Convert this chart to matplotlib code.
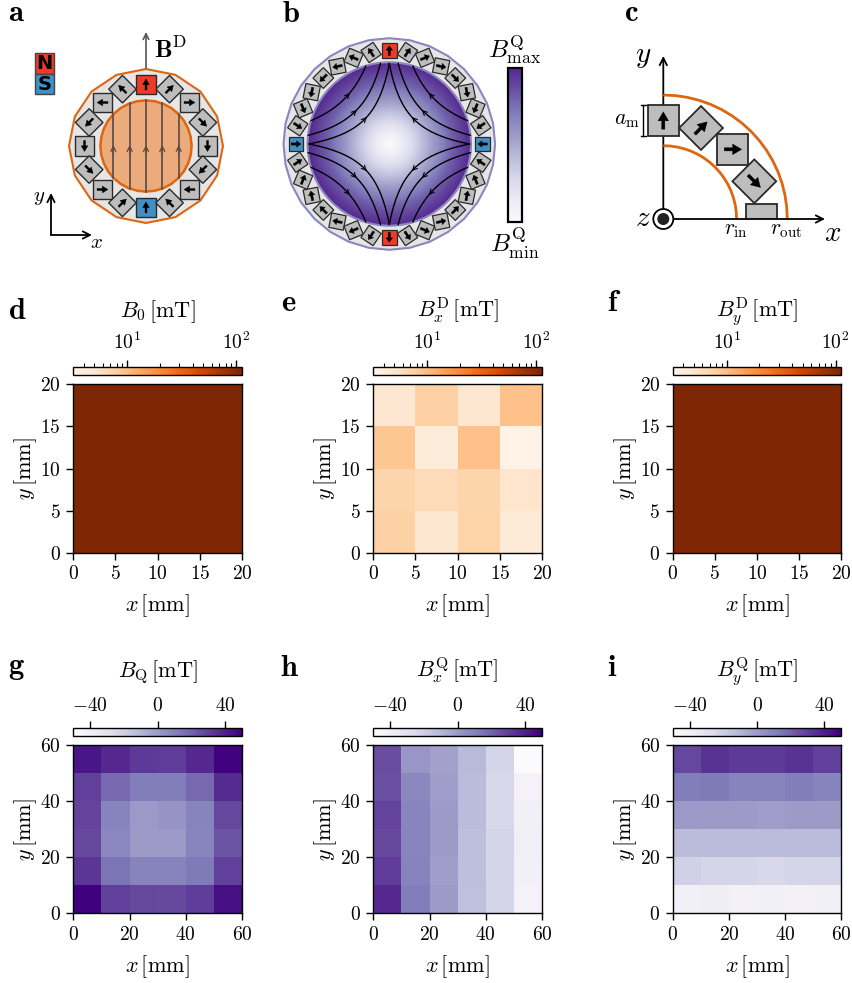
import numpy as np
import matplotlib
matplotlib.use('Agg')
import matplotlib.pyplot as plt
from matplotlib.colors import LogNorm, Normalize
from matplotlib.patches import Polygon, Rectangle, Circle, FancyArrow

plt.rcParams['font.family'] = ['cmr10', 'DejaVu Sans']
plt.rcParams['mathtext.fontset'] = 'cm'
plt.rcParams['axes.unicode_minus'] = False
plt.rcParams['axes.formatter.use_mathtext'] = True
plt.rcParams['axes.linewidth'] = 1.0

W, H = 852, 983

#
# Data
#

# rows run from the top of the map to the bottom
b0_map = [[112, 112, 112, 112],
          [112, 112, 112, 112],
          [112, 112, 112, 112],
          [112, 112, 112, 112]]
bx_d_map = [[4.9, 7.7, 4.8, 9.5],
            [8.8, 4.2, 9.5, 3.5],
            [7.0, 6.3, 7.0, 5.2],
            [7.7, 4.8, 7.4, 4.4]]
by_d_map = [[112, 112, 112, 112],
            [112, 112, 112, 112],
            [112, 112, 112, 112],
            [112, 112, 112, 112]]
bq_map = [[43, 37, 32, 31, 37, 49],
          [30, 18, 12, 12, 18, 36],
          [29, 10, 1, 3, 10, 28],
          [27, 8, 0, 0, 9, 24],
          [33, 15, 10, 10, 13, 30],
          [50, 30, 28, 27, 31, 45]]
bx_q_map = [[26, 2, -2, -11, -23, -49],
            [25, 8, -1, -12, -24, -42],
            [29, 9, 0, -12, -24, -40],
            [27, 9, 0, -13, -23, -39],
            [31, 10, -1, -13, -23, -40],
            [37, 12, 0, -14, -23, -42]]
by_q_map = [[28, 34, 32, 32, 34, 30],
            [12, 13, 10, 10, 12, 10],
            [1, 0, 0, -1, 0, 0],
            [-12, -12, -12, -12, -12, -12],
            [-21, -23, -23, -24, -23, -23],
            [-40, -38, -41, -40, -41, -40]]

dipole_titles = [r'$B_0\,[\mathrm{mT}]$', r'$B_x^{\mathrm{D}}\,[\mathrm{mT}]$', r'$B_y^{\mathrm{D}}\,[\mathrm{mT}]$']
quad_titles = [r'$B_{\mathrm{Q}}\,[\mathrm{mT}]$', r'$B_x^{\mathrm{Q}}\,[\mathrm{mT}]$', r'$B_y^{\mathrm{Q}}\,[\mathrm{mT}]$']

dipole_ticks = [0, 5, 10, 15, 20]
quad_ticks = [0, 20, 40, 60]
log_major = [10, 100]
log_minor = [4, 5, 6, 7, 8, 9, 20, 30, 40, 50, 60, 70, 80, 90]
quad_cbar_ticks = [-40, 0, 40]

# gradient of the bore in panel b: fraction of radius -> colormap level
bore_radius = [0.0, 0.25, 0.5, 0.75, 1.0]
bore_level = [0.0, 0.22, 0.47, 0.70, 0.87]

# field lines of panel b: shift, crossing point on the diagonal, arrow x (px)
line_shift = [19.7, 17.5, 16.7]
line_cross = [24.7, 33.3, 45.0]
line_arrow = [23.0, 33.0, 40.0]

a_line_x = [-32.7, -16.3, 0, 16.3, 32.7]

red = '#ee3a28'
blue = '#4090c6'
gray = '#bdbdbd'
ring = '#e6e6e6'
orange = '#dd6611'
lilac = '#8b86bf'


def px_rect(x0, y0, x1, y1):
    return [x0 / W, 1 - y1 / H, (x1 - x0) / W, (y1 - y0) / H]


def ngon(cx, cy, r, n):
    t = np.arange(n) * 2 * np.pi / n
    return np.column_stack([cx + r * np.cos(t), cy - r * np.sin(t)])


def draw_magnet(ax, cx, cy, size, angle, color=gray, lw=1.0, clip=None, heavy=False):
    # angle is the magnetisation direction in degrees, counter-clockwise
    t = np.deg2rad(angle)
    ux, uy = np.cos(t), -np.sin(t)
    vx, vy = -uy, ux
    h = size / 2
    corners = [(cx + sx * h * ux + sy * h * vx, cy + sx * h * uy + sy * h * vy)
               for sx, sy in [(-1, -1), (1, -1), (1, 1), (-1, 1)]]
    body = Polygon(corners, closed=True, fc=color, ec='#2a2a2a', lw=lw, zorder=4)
    ax.add_patch(body)
    if clip is not None:
        body.set_clip_path(clip)
        return
    length = size * (0.66 if heavy else 0.56)
    shaft = 0.15 if heavy else 0.1
    head = 0.44 if heavy else 0.34
    arrow = FancyArrow(cx - ux * length / 2, cy - uy * length / 2, ux * length, uy * length,
                       width=size * shaft, head_width=size * head, head_length=size * 0.29,
                       length_includes_head=True, fc='black', ec='black', lw=0.3, zorder=5)
    ax.add_patch(arrow)


def open_arrow(ax, x0, y0, x1, y1, color='black', lw=1.2, scale=12, zorder=6):
    ax.annotate('', xy=(x1, y1), xytext=(x0, y0),
                arrowprops=dict(arrowstyle='->', color=color, lw=lw, mutation_scale=scale,
                                shrinkA=0, shrinkB=0), zorder=zorder)


fig = plt.figure(figsize=(W / 100, H / 100), dpi=100)

#
# Heatmaps
#

col_left = [73.3, 373.3, 672.7]
map_width = 168.6


def draw_map(values, left, top, span, ticks, cmap, norm, title, cb_top, cb_bottom, title_pad):
    ax = fig.add_axes(px_rect(left, top, left + map_width, top + map_width - 0.2))
    values = np.array(values, dtype=float)[::-1]
    nx, ny = values.shape[1], values.shape[0]
    mesh = ax.pcolormesh(np.linspace(0, span, nx + 1), np.linspace(0, span, ny + 1), values,
                         cmap=cmap, norm=norm, linewidth=0, rasterized=True)
    ax.set_xticks(ticks, [f'${v}$' for v in ticks])
    ax.set_yticks(ticks, [f'${v}$' for v in ticks])
    ax.tick_params(length=5, width=1, labelsize=14, pad=4)
    ax.set_xlabel(r'$x\,[\mathrm{mm}]$', fontsize=16, labelpad=6.5)
    ax.set_ylabel(r'$y\,[\mathrm{mm}]$', fontsize=16, labelpad=0.5)
    cax = fig.add_axes(px_rect(left, cb_top, left + map_width, cb_bottom))
    cb = fig.colorbar(mesh, cax=cax, orientation='horizontal', ticklocation='top')
    cb.outline.set_linewidth(1.0)
    cax.set_title(title, fontsize=16, pad=title_pad)
    return cax


for left, vals, title in zip(col_left, [b0_map, bx_d_map, by_d_map], dipole_titles):
    cax = draw_map(vals, left, 384.3, 20, dipole_ticks, 'Oranges', LogNorm(3.2, 113), title, 366.5, 375, 11)
    cax.set_xticks(log_major, [r'$10^{1}$', r'$10^{2}$'])
    cax.set_xticks(log_minor, [''] * len(log_minor), minor=True)
    cax.tick_params(axis='x', which='major', length=5, width=1, labelsize=14, pad=4.5)
    cax.tick_params(axis='x', which='minor', length=3, width=0.8)

for left, vals, title in zip(col_left, [bq_map, bx_q_map, by_q_map], quad_titles):
    cax = draw_map(vals, left, 745, 60, quad_ticks, 'Purples', Normalize(-50, 50), title, 727.5, 736, 14.5)
    cax.set_xticks(quad_cbar_ticks, [f'${v}$' for v in quad_cbar_ticks])
    cax.set_xticks([], minor=True)
    cax.tick_params(axis='x', which='major', length=5, width=1, labelsize=14, pad=4)

#
# Schematics, drawn in pixel coordinates
#

sk = fig.add_axes([0, 0, 1, 1], zorder=10)
sk.patch.set_visible(False)
sk.axis('off')

# panel a
ax_c, ay_c = 146, 146
sk.add_patch(Polygon(ngon(ax_c, ay_c, 77, 16), closed=True, fc=ring, ec=orange, lw=1.5, zorder=1))
sk.add_patch(Polygon(ngon(ax_c, ay_c, 45.6, 32), closed=True, fc='#ebab7d', ec=orange, lw=1.8, zorder=2))
for dx in a_line_x:
    half = np.sqrt(45.6 ** 2 - dx ** 2)
    sk.plot([ax_c + dx, ax_c + dx], [ay_c - half, ay_c + half], color='#5a4a42', lw=1.2, zorder=3)
    open_arrow(sk, ax_c + dx, ay_c + 8, ax_c + dx, ay_c - 1, color='#5a4a42', lw=0.9, scale=9, zorder=3)
for k in range(16):
    theta = 22.5 * k
    color = red if k == 4 else blue if k == 12 else gray
    draw_magnet(sk, ax_c + 61.5 * np.cos(np.deg2rad(theta)), ay_c - 61.5 * np.sin(np.deg2rad(theta)),
                19.5, 2 * theta - 90, color=color)
open_arrow(sk, ax_c, 68, ax_c, 32, color='#555555', lw=1.2, scale=10)
sk.text(154, 50, r'$\mathbf{B}^{\mathrm{D}}$', fontsize=18, va='center', ha='left')
sk.add_patch(Rectangle((35, 53), 18.5, 20.5, fc=red, ec='#444444', lw=1, zorder=3))
sk.add_patch(Rectangle((35, 73.5), 18.5, 20.5, fc=blue, ec='#444444', lw=1, zorder=3))
sk.text(44.2, 63.5, 'N', family='DejaVu Sans', weight='bold', fontsize=14, ha='center', va='center', zorder=4)
sk.text(44.2, 84, 'S', family='DejaVu Sans', weight='bold', fontsize=14, ha='center', va='center', zorder=4)
open_arrow(sk, 51, 235, 92, 235, lw=1.3, scale=13)
open_arrow(sk, 51, 235, 51, 193, lw=1.3, scale=13)
sk.text(39, 198, r'$y$', fontsize=15, ha='center', va='center')
sk.text(96, 243, r'$x$', fontsize=15, ha='center', va='center')

# panel b
bx_c, by_c = 389.3, 144
bore_r = 81.7
grid = np.linspace(-1, 1, 301)
rr = np.hypot(*np.meshgrid(grid, grid))
bore = sk.imshow(np.interp(rr, bore_radius, bore_level), cmap='Purples', vmin=0, vmax=1, aspect='auto',
                 extent=(bx_c - bore_r, bx_c + bore_r, by_c + bore_r, by_c - bore_r), zorder=2)
sk.add_patch(Polygon(ngon(bx_c, by_c, 105.8, 32), closed=True, fc=ring, ec=lilac, lw=1.5, zorder=1))
bore_edge = Circle((bx_c, by_c), bore_r, fc='none', ec=lilac, lw=1.5, zorder=3)
sk.add_patch(bore_edge)
bore.set_clip_path(bore_edge)
for shift, cross, arrow_x in zip(line_shift, line_cross, line_arrow):
    c = (cross + shift) ** 2
    xs = np.linspace(0, bore_r, 400)
    ys = c / (xs + shift) - shift
    keep = (ys >= 0) & (np.hypot(xs, ys) <= bore_r)
    for sx in [-1, 1]:
        for sy in [-1, 1]:
            sk.plot(bx_c + sx * xs[keep], by_c - sy * ys[keep], color='black', lw=1.0, zorder=3.5)
            y0 = c / (arrow_x + 2 + shift) - shift
            y1 = c / (arrow_x - 0.5 + shift) - shift
            open_arrow(sk, bx_c + sx * (arrow_x + 2), by_c - sy * y0, bx_c + sx * (arrow_x - 0.5), by_c - sy * y1,
                       lw=0.8, scale=8, zorder=3.5)
for k in range(32):
    theta = 11.25 * k
    color = red if k in (8, 24) else blue if k in (0, 16) else gray
    draw_magnet(sk, bx_c + 93.3 * np.cos(np.deg2rad(theta)), by_c - 93.3 * np.sin(np.deg2rad(theta)),
                14.7, 3 * theta - 180, color=color, lw=0.9, heavy=True)
bar = sk.imshow(np.linspace(0.87, 0.02, 200)[:, None], cmap='Purples', vmin=0, vmax=1, aspect='auto',
                extent=(508, 522, 222, 68), zorder=2)
sk.add_patch(Rectangle((508, 68), 14, 154, fc='none', ec='black', lw=1.6, zorder=3))
sk.text(515, 50, r'$B^{\mathrm{Q}}_{\mathrm{max}}$', fontsize=18, ha='center', va='center')
sk.text(515, 243, r'$B^{\mathrm{Q}}_{\mathrm{min}}$', fontsize=18, ha='center', va='center')

# panel c
ox, oy = 663.3, 219
for r in [73.3, 124]:
    pts = ngon(ox, oy, r, 64)[:17]
    sk.plot(pts[:, 0], pts[:, 1], color=orange, lw=2, zorder=3, solid_capstyle='butt')
open_arrow(sk, ox, oy, ox, 56, lw=1.3, scale=13, zorder=2)
open_arrow(sk, ox, oy, 825, oy, lw=1.3, scale=13, zorder=6)
clip = Rectangle((ox, oy - 60), 200, 60, transform=sk.transData)
for k in range(5):
    theta = 90 - 22.5 * k
    px = ox + 98.5 * np.cos(np.deg2rad(theta))
    py = oy - 98.5 * np.sin(np.deg2rad(theta))
    if k < 4:
        draw_magnet(sk, px, py, 31, 90 - 45 * k, lw=1.3)
    else:
        draw_magnet(sk, px, py, 31, 0, lw=1.3, clip=clip)
sk.add_patch(Circle((ox, oy), 10, fc='white', ec='black', lw=1.3, zorder=7))
sk.add_patch(Circle((ox, oy), 6, fc='#222222', ec='none', zorder=8))
sk.plot([643, 643], [105, 136], color='black', lw=1, zorder=3)
sk.plot([640.5, 645.5], [105, 105], color='black', lw=1, zorder=3)
sk.plot([640.5, 645.5], [136, 136], color='black', lw=1, zorder=3)
sk.text(627, 120, r'$a_{\mathrm{m}}$', fontsize=15.5, ha='center', va='center')
sk.text(736, 230, r'$r_{\mathrm{in}}$', fontsize=15.5, ha='center', va='center')
sk.text(786, 230, r'$r_{\mathrm{out}}$', fontsize=15.5, ha='center', va='center')
sk.text(643, 57, r'$y$', fontsize=21, ha='center', va='center')
sk.text(833, 234, r'$x$', fontsize=21, ha='center', va='center')
sk.text(643, 219, r'$z$', fontsize=21, ha='center', va='center')

# panel letters
letter_pos = {'a': (8, 13), 'b': (282, 14), 'c': (624, 13), 'd': (8, 311), 'e': (281, 303), 'f': (607, 303),
              'g': (8, 668), 'h': (280, 668), 'i': (607, 668)}
for letter, (lx, ly) in letter_pos.items():
    sk.text(lx, ly, rf'$\mathbf{{{letter}}}$', fontsize=22, ha='left', va='center')

sk.set_xlim(0, W)
sk.set_ylim(H, 0)

fig.savefig('out.png', dpi=100)
